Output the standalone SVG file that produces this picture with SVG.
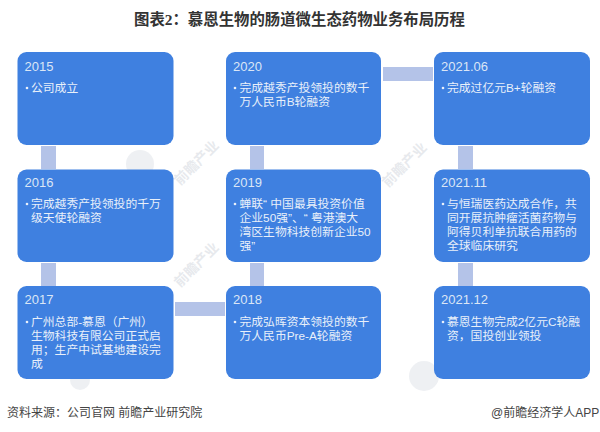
<svg xmlns="http://www.w3.org/2000/svg" width="600" height="432" viewBox="0 0 600 432">
<style>
text{font-family:"Liberation Sans","Noto Sans CJK SC",sans-serif}
.n{fill:#3f80e0}
.c{fill:#b4c3e8}
.y{font-size:13px;fill:#dbe6f6}
.t{font-size:11.8px;fill:#e9f0fa}
.q{font-family:"Noto Sans CJK SC",sans-serif}
.b{fill:#e9f0fa}
.w{font-size:14px;font-weight:700;fill:#8a96a8;opacity:.2}
.l{fill:#8a96a8;opacity:.14}
</style>
<rect width="600" height="432" fill="#fff"/>
<text x="134" y="24.500" font-size="15.400" font-weight="700" fill="#333" style="font-family:'Liberation Serif','Noto Sans CJK SC',serif">图表2：慕恩生物的肠道微生态药物业务布局历程</text>
<g id="watermark">
<circle class="l" cx="140" cy="164" r="14"/>
<circle class="l" cx="424" cy="376" r="15"/>
<circle class="l" cx="80" cy="380" r="10"/>
<text class="w" transform="translate(180 186) rotate(-45)">前瞻产业</text>
<text class="w" transform="translate(180 288) rotate(-45)">前瞻产业</text>
<text class="w" transform="translate(388 188) rotate(-45)">前瞻产业</text>
</g>
<g id="connectors">
<rect class="c" x="41" y="146" width="15" height="23"/>
<rect class="c" x="41" y="263" width="15" height="23"/>
<rect class="c" x="250" y="146" width="14" height="23"/>
<rect class="c" x="250" y="263" width="14" height="23"/>
<rect class="c" x="458" y="146" width="15" height="23"/>
<rect class="c" x="458" y="263" width="15" height="23"/>
<rect class="c" x="175" y="302" width="50" height="14"/>
<rect class="c" x="383" y="67" width="50" height="14"/>
</g>
<g id="n2015"><rect class="n" x="17.500" y="52" width="156" height="93" rx="9"/><text class="y" x="24.500" y="71">2015</text><circle class="b" cx="27" cy="88" r="1.300"/><text class="t" x="31" y="92">公司成立</text></g>
<g id="n2016"><rect class="n" x="17.500" y="169.500" width="156" height="92.500" rx="9"/><text class="y" x="24.500" y="187">2016</text><circle class="b" cx="27" cy="204" r="1.300"/><text class="t" y="208"><tspan x="31">完成越秀产投领投的千万</tspan><tspan x="31" dy="14">级天使轮融资</tspan></text></g>
<g id="n2017"><rect class="n" x="17.500" y="286" width="156" height="93" rx="9"/><text class="y" x="24.500" y="304">2017</text><circle class="b" cx="27" cy="322" r="1.300"/><text class="t" y="326"><tspan x="31">广州总部-慕恩（广州）</tspan><tspan x="31" dy="14">生物科技有限公司正式启</tspan><tspan x="31" dy="14">用；生产中试基地建设完</tspan><tspan x="31" dy="14">成</tspan></text></g>
<g id="n2020"><rect class="n" x="226" y="52" width="155" height="93" rx="9"/><text class="y" x="233" y="71">2020</text><circle class="b" cx="235" cy="88" r="1.300"/><text class="t" y="92"><tspan x="239.500">完成越秀产投领投的数千</tspan><tspan x="239.500" dy="14">万人民币B轮融资</tspan></text></g>
<g id="n2019"><rect class="n" x="226" y="169.500" width="155" height="92.500" rx="9"/><text class="y" x="233" y="187">2019</text><circle class="b" cx="235" cy="204" r="1.300"/><text class="t" y="208"><tspan x="239.500">蝉联“ 中国最具投资价值</tspan><tspan x="239.500" dy="14">企业50强”、“ 粤港澳大</tspan><tspan x="239.500" dy="14">湾区生物科技创新企业50</tspan><tspan x="239.500" dy="14">强”</tspan></text></g>
<g id="n2018"><rect class="n" x="226" y="286" width="155" height="93" rx="9"/><text class="y" x="233" y="304">2018</text><circle class="b" cx="235" cy="322" r="1.300"/><text class="t" y="326"><tspan x="239.500">完成弘晖资本领投的数千</tspan><tspan x="239.500" dy="14">万人民币Pre-A轮融资</tspan></text></g>
<g id="n202106"><rect class="n" x="434" y="52" width="156" height="93" rx="9"/><text class="y" x="441" y="71">2021.06</text><circle class="b" cx="443" cy="88" r="1.300"/><text class="t" x="447" y="92">完成过亿元B+轮融资</text></g>
<g id="n202111"><rect class="n" x="434" y="169.500" width="156" height="92.500" rx="9"/><text class="y" x="441" y="187">2021.11</text><circle class="b" cx="443" cy="204" r="1.300"/><text class="t" y="208"><tspan x="447">与恒瑞医药达成合作，共</tspan><tspan x="447" dy="14">同开展抗肿瘤活菌药物与</tspan><tspan x="447" dy="14">阿得贝利单抗联合用药的</tspan><tspan x="447" dy="14">全球临床研究</tspan></text></g>
<g id="n202112"><rect class="n" x="434" y="286" width="156" height="93" rx="9"/><text class="y" x="441" y="304">2021.12</text><circle class="b" cx="443" cy="322" r="1.300"/><text class="t" y="326"><tspan x="447">慕恩生物完成2亿元C轮融</tspan><tspan x="447" dy="14">资，国投创业领投</tspan></text></g>
<text x="7" y="417" font-size="12" fill="#444">资料来源：公司官网 前瞻产业研究院</text>
<text x="491" y="417" font-size="12" fill="#444">@前瞻经济学人APP</text>
</svg>
